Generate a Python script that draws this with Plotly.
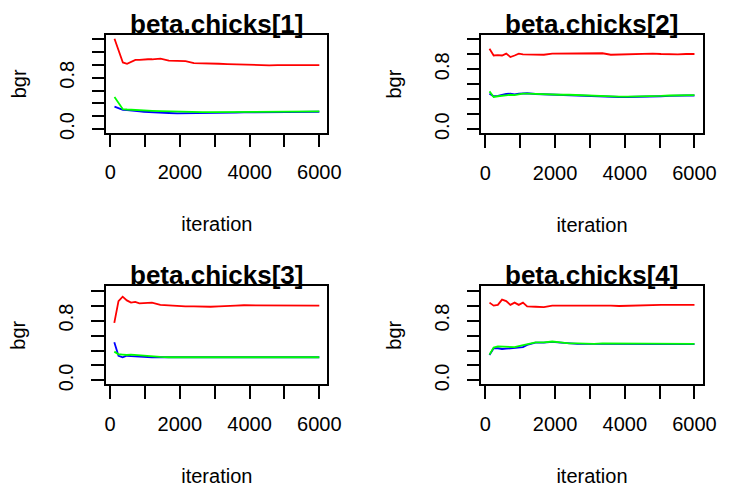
import plotly.graph_objects as go

# Brooks-Gelman-Rubin diagnostic for the four beta.chicks parameters
iterations = [120, 240, 360, 480, 600, 720, 840, 960, 1080, 1200,
              1440, 1680, 1920, 2160, 2400, 2640, 2880, 3120, 3360, 3600,
              3840, 4080, 4320, 4560, 4800, 5040, 5280, 5520, 5760, 6000]

params = ["beta.chicks[1]", "beta.chicks[2]", "beta.chicks[3]", "beta.chicks[4]"]

# ratio (red), pooled width (green), within width (blue)
ratio_1 = [1.41, 1.23, 1.04, 1.02, 1.05, 1.08, 1.08, 1.09, 1.09, 1.09,
           1.10, 1.07, 1.07, 1.06, 1.03, 1.03, 1.02, 1.02, 1.015, 1.01,
           1.005, 1.0, 0.995, 0.995, 1.0, 1.0, 1.0, 1.0, 1.0, 1.0]
pooled_1 = [0.50, 0.40, 0.31, 0.305, 0.30, 0.295, 0.29, 0.29, 0.285, 0.285,
            0.28, 0.275, 0.27, 0.27, 0.265, 0.265, 0.265, 0.265, 0.265, 0.27,
            0.27, 0.27, 0.27, 0.27, 0.275, 0.275, 0.275, 0.275, 0.275, 0.275]
within_1 = [0.35, 0.33, 0.30, 0.295, 0.285, 0.28, 0.275, 0.27, 0.265, 0.26,
            0.255, 0.25, 0.245, 0.245, 0.245, 0.245, 0.25, 0.25, 0.255, 0.255,
            0.26, 0.26, 0.26, 0.265, 0.265, 0.265, 0.27, 0.27, 0.27, 0.27]

ratio_2 = [1.075, 0.985, 0.99, 0.985, 1.01, 0.965, 0.985, 1.01, 1.0, 1.0,
           0.995, 0.995, 1.01, 1.01, 1.01, 1.015, 1.02, 1.02, 1.015, 0.995,
           1.0, 1.005, 1.01, 1.01, 1.01, 1.005, 1.0, 1.0, 1.005, 1.005]
pooled_2 = [0.505, 0.43, 0.44, 0.45, 0.455, 0.46, 0.455, 0.47, 0.475, 0.475,
            0.47, 0.465, 0.46, 0.46, 0.46, 0.455, 0.45, 0.445, 0.44, 0.44,
            0.435, 0.435, 0.435, 0.435, 0.44, 0.445, 0.45, 0.45, 0.45, 0.455]
within_2 = [0.475, 0.44, 0.445, 0.46, 0.47, 0.475, 0.465, 0.475, 0.48, 0.48,
            0.47, 0.465, 0.46, 0.46, 0.455, 0.45, 0.445, 0.44, 0.435, 0.435,
            0.43, 0.43, 0.43, 0.43, 0.435, 0.44, 0.445, 0.45, 0.45, 0.45]

ratio_3 = [0.77, 1.06, 1.12, 1.07, 1.04, 1.05, 1.03, 1.035, 1.04, 1.04,
           1.01, 1.0, 0.995, 0.99, 0.99, 0.985, 0.985, 0.99, 1.0, 1.0,
           1.005, 1.005, 1.01, 1.0, 1.0, 1.0, 1.0, 1.0, 1.0, 1.0]
pooled_3 = [0.385, 0.35, 0.345, 0.34, 0.345, 0.34, 0.335, 0.33, 0.325, 0.32,
            0.315, 0.31, 0.31, 0.31, 0.31, 0.315, 0.315, 0.31, 0.31, 0.31,
            0.31, 0.315, 0.315, 0.31, 0.31, 0.31, 0.31, 0.31, 0.31, 0.31]
within_3 = [0.51, 0.33, 0.31, 0.33, 0.325, 0.32, 0.32, 0.32, 0.315, 0.31,
            0.31, 0.31, 0.31, 0.31, 0.31, 0.31, 0.31, 0.31, 0.31, 0.31,
            0.31, 0.31, 0.31, 0.31, 0.31, 0.31, 0.31, 0.31, 0.31, 0.31]

ratio_4 = [1.04, 1.0, 1.01, 1.08, 1.06, 1.01, 1.04, 1.01, 1.04, 0.99,
           0.985, 0.98, 1.0, 1.0, 1.005, 1.01, 1.01, 1.01, 1.0, 1.0,
           0.995, 1.0, 1.0, 1.0, 1.005, 1.01, 1.01, 1.01, 1.01, 1.01]
pooled_4 = [0.345, 0.44, 0.455, 0.455, 0.45, 0.45, 0.445, 0.46, 0.47, 0.49,
            0.51, 0.51, 0.52, 0.51, 0.495, 0.495, 0.49, 0.49, 0.495, 0.495,
            0.495, 0.495, 0.495, 0.49, 0.49, 0.49, 0.49, 0.49, 0.49, 0.49]
within_4 = [0.34, 0.43, 0.43, 0.42, 0.425, 0.43, 0.43, 0.44, 0.445, 0.475,
            0.505, 0.505, 0.515, 0.505, 0.495, 0.49, 0.49, 0.49, 0.49, 0.495,
            0.495, 0.49, 0.49, 0.49, 0.49, 0.485, 0.485, 0.485, 0.485, 0.485]

ratios = [ratio_1, ratio_2, ratio_3, ratio_4]
pooled = [pooled_1, pooled_2, pooled_3, pooled_4]
within = [within_1, within_2, within_3, within_4]

x_ticks = [0, 1000, 2000, 3000, 4000, 5000, 6000]
x_labels = ["0", "", "2000", "", "4000", "", "6000"]
y_labels = {0.0: "0.0", 0.8: "0.8"}

W, H = 735, 493
# plot boxes in pixels: (left, right, top, bottom)
boxes = [(107.5, 333.3, 35.6, 134.5), (490.3, 716.3, 35.8, 134.8),
         (107.3, 333.3, 290.3, 389.7), (490.3, 716.3, 290.3, 389.7)]
y_ranges = [[-0.056, 1.468], [-0.05, 1.255], [-0.05, 1.26], [-0.05, 1.26]]
y_tick_sets = [[0, 0.2, 0.4, 0.6, 0.8, 1.0, 1.2, 1.4],
               [0, 0.2, 0.4, 0.6, 0.8, 1.0, 1.2],
               [0, 0.2, 0.4, 0.6, 0.8, 1.0, 1.2],
               [0, 0.2, 0.4, 0.6, 0.8, 1.0, 1.2]]

FONT = "Liberation Sans, Arial, Helvetica, sans-serif"
fig = go.Figure()

for i in range(4):
    n = "" if i == 0 else str(i + 1)
    xa, ya = "x" + n, "y" + n
    for vals, col in ((within[i], "#0000FF"), (pooled[i], "#00FF00"), (ratios[i], "#FF0000")):
        fig.add_trace(go.Scatter(x=iterations, y=vals, mode="lines", xaxis=xa, yaxis=ya,
                                 line=dict(color=col, width=1.8), showlegend=False,
                                 hoverinfo="skip"))
    l, r, t, b = boxes[i]
    common = dict(showline=True, mirror=True, linecolor="black", linewidth=1.5,
                  ticks="outside", ticklen=13, tickwidth=1.5, tickcolor="black",
                  showgrid=False, zeroline=False, tickfont=dict(family=FONT, size=20, color="black"),
                  fixedrange=True)
    yt = y_tick_sets[i]
    fig.layout["xaxis" + n] = dict(
        domain=[l / W, r / W], anchor=ya, range=[-115, 6235],
        tickvals=x_ticks, ticktext=x_labels, ticklabelstandoff=8,
        title=dict(text="iteration", font=dict(family=FONT, size=20, color="black"), standoff=35),
        **common)
    fig.layout["yaxis" + n] = dict(
        domain=[1 - b / H, 1 - t / H], anchor=xa, range=y_ranges[i],
        tickvals=yt, ticktext=[y_labels.get(round(v, 1), "") for v in yt],
        tickangle=-90, ticklabelstandoff=10,
        title=dict(text="bgr", font=dict(family=FONT, size=20, color="black"), standoff=24),
        **common)
    fig.add_annotation(text="<b>%s</b>" % params[i], x=(l + r) / 2 / W, xref="paper",
                       y=1 - t / H, yref="paper", xanchor="center", yanchor="bottom",
                       yshift=-6, showarrow=False,
                       font=dict(family=FONT, size=26, color="black"))

fig.update_layout(width=W, height=H, margin=dict(l=0, r=0, t=0, b=0),
                  paper_bgcolor="white", plot_bgcolor="white")
fig.write_html("out.html")
